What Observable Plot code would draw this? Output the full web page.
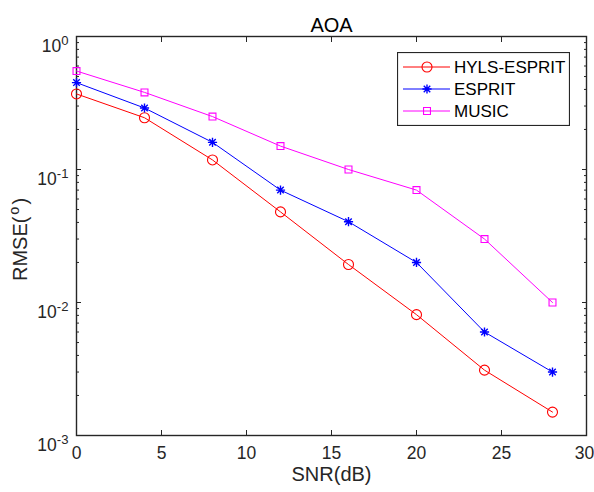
<!DOCTYPE html>
<html><head><meta charset="utf-8">
<script src="https://cdn.jsdelivr.net/npm/d3@7"></script>
<script src="https://cdn.jsdelivr.net/npm/@observablehq/plot@0.6"></script>
<style>
body{margin:0;background:#fff;}
#chart{position:relative;width:594px;height:492px;font-family:"Liberation Sans",Arial,sans-serif;}
#legend{position:absolute;left:397px;top:52px;}
</style></head><body><div id="chart"></div>
<script>
const snr = [0, 4, 8, 12, 16, 20, 24, 28];
const hylsEsprit = [0.37, 0.245, 0.118, 0.048, 0.0193, 0.0081, 0.0031, 0.0015];
const esprit = [0.45, 0.29, 0.16, 0.07, 0.0405, 0.02, 0.006, 0.003];
const music = [0.55, 0.38, 0.25, 0.15, 0.1, 0.07, 0.03, 0.01];
const methods = ["HYLS-ESPRIT", "ESPRIT", "MUSIC"];
const colors = ["#ff0000", "#0000ff", "#ff00ff"];
const xTicks = [0, 5, 10, 15, 20, 25, 30];
const yMajor = [0.001, 0.01, 0.1, 1];

const asterisk = {draw(ctx, size) {
  const r = Math.sqrt(size / Math.PI), d = r * Math.SQRT1_2;
  ctx.moveTo(-r, 0); ctx.lineTo(r, 0);
  ctx.moveTo(0, -r); ctx.lineTo(0, r);
  ctx.moveTo(-d, -d); ctx.lineTo(d, d);
  ctx.moveTo(-d, d); ctx.lineTo(d, -d);
}};
const symbols = ["circle", asterisk, "square"];
const radii = [5, 4.6, 3.9];
const values = [hylsEsprit, esprit, music];
const series = methods.map((m, i) => ({
  name: m, color: colors[i], symbol: symbols[i], r: radii[i],
  data: snr.map((s, j) => ({snr: s, v: values[i][j]}))
}));
const yMinor = d3.scaleLog().domain([0.001, 1]).ticks().filter(t => !yMajor.some(M => Math.abs(M - t) < 1e-12));

const axisColor = "#262626";
const tickFont = 17.5;
const labelFont = 20;

const marks = [
  Plot.frame({stroke: axisColor, strokeWidth: 1.4}),
  Plot.axisX(xTicks, {anchor: "bottom", tickSize: 0, tickPadding: 11, fontSize: tickFont, label: null, color: axisColor}),
  Plot.axisX(xTicks, {anchor: "bottom", tickSize: -5, fill: "none", label: null, stroke: axisColor}),
  Plot.axisX(xTicks, {anchor: "top", tickSize: -5, fill: "none", label: null, stroke: axisColor}),
  Plot.axisY(yMajor, {anchor: "left", tickSize: 0, tickPadding: 8, fontSize: tickFont, label: null, color: axisColor,
    tickFormat: d => "10^" + Math.round(Math.log10(d))}),
  Plot.axisY(yMajor, {anchor: "left", tickSize: -5, fill: "none", label: null, stroke: axisColor}),
  Plot.axisY(yMinor, {anchor: "left", tickSize: -3, fill: "none", label: null, stroke: axisColor}),
  Plot.axisY(yMajor, {anchor: "right", tickSize: -5, fill: "none", label: null, stroke: axisColor}),
  Plot.axisY(yMinor, {anchor: "right", tickSize: -3, fill: "none", label: null, stroke: axisColor})
];
for (const s of series) {
  marks.push(Plot.line(s.data, {x: "snr", y: "v", stroke: s.color, strokeWidth: 1}));
  marks.push(Plot.dot(s.data, {x: "snr", y: "v", stroke: s.color, fill: "none", symbol: s.symbol, r: s.r, strokeWidth: s.symbol === asterisk ? 1.4 : 1.1}));
}
marks.push(
  Plot.text(["AOA"], {text: d => d, frameAnchor: "top", dy: -19, fontSize: labelFont, fill: "#000"}),
  Plot.text(["SNR(dB)"], {text: d => d, frameAnchor: "bottom", dy: 45, fontSize: labelFont, fill: axisColor}),
  Plot.text(["RMSE(o)"], {text: d => d, frameAnchor: "left", textAnchor: "middle", rotate: -90, dx: -56, dy: 3.5, fontSize: labelFont, fill: axisColor})
);

const chart = Plot.plot({
  width: 594, height: 492,
  marginLeft: 76, marginRight: 8, marginTop: 36, marginBottom: 57,
  style: {fontFamily: '"Liberation Sans", Arial, sans-serif', background: "#fff", color: axisColor},
  x: {domain: [0, 30]},
  y: {type: "log", domain: [0.001, 1]},
  marks
});

// superscripts
const svgNS = "http://www.w3.org/2000/svg";
d3.select(chart).selectAll("text").each(function() {
  const t = this.textContent;
  const m = t.match(/^10\^(-?\d+)$/);
  if (m) {
    this.textContent = "";
    const a = document.createElementNS(svgNS, "tspan"); a.textContent = "10";
    const b = document.createElementNS(svgNS, "tspan"); b.textContent = m[1];
    b.setAttribute("dy", "-7"); b.setAttribute("font-size", "0.75em");
    this.append(a, b);
    this.setAttribute("dy", "0.55em");
  } else if (t === "RMSE(o)") {
    this.textContent = "";
    const a = document.createElementNS(svgNS, "tspan"); a.textContent = "RMSE(";
    const b = document.createElementNS(svgNS, "tspan"); b.textContent = "o";
    b.setAttribute("dy", "-8"); b.setAttribute("dx", "2"); b.setAttribute("font-size", "0.72em");
    const c = document.createElementNS(svgNS, "tspan"); c.textContent = ")";
    c.setAttribute("dy", "8"); c.setAttribute("dx", "2");
    this.append(a, b, c);
  } else if (t === "30") {
    this.setAttribute("dx", "-2");
  }
});

const root = document.getElementById("chart");
root.append(chart);

// legend
const lw = 173, lh = 74, rowY = [15, 37, 59];
const leg = d3.select(root).append("svg").attr("id", "legend").attr("width", lw).attr("height", lh)
  .style("font-family", '"Liberation Sans", Arial, sans-serif');
leg.append("rect").attr("x", 0.5).attr("y", 0.5).attr("width", lw - 1).attr("height", lh - 1)
  .attr("fill", "#fff").attr("stroke", axisColor).attr("stroke-width", 1.2);
series.forEach((s, i) => {
  const g = leg.append("g").attr("transform", `translate(0,${rowY[i]})`);
  g.append("line").attr("x1", 6).attr("x2", 53).attr("stroke", s.color).attr("stroke-width", 1);
  const type = s.symbol === "circle" ? d3.symbolCircle : s.symbol === "square" ? d3.symbolSquare : asterisk;
  g.append("path").attr("transform", "translate(30,0)")
    .attr("d", d3.symbol(type, s.r * s.r * Math.PI)())
    .attr("fill", "none").attr("stroke", s.color).attr("stroke-width", s.symbol === asterisk ? 1.4 : 1.1);
  g.append("text").attr("x", 57).attr("dy", "0.36em").attr("font-size", 17).attr("fill", "#000").text(s.name);
});
</script></body></html>
